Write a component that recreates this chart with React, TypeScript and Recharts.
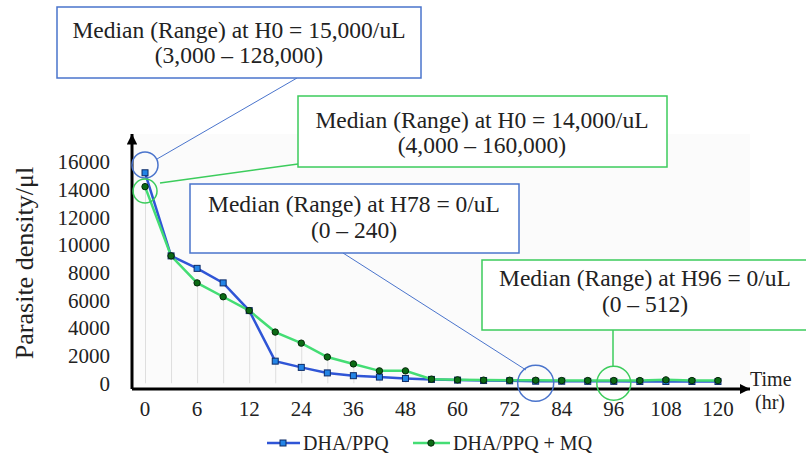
import React from 'react';
import { ComposedChart, Line, Bar, XAxis, YAxis, ReferenceDot, CartesianGrid } from 'recharts';

const hours = [0, 3, 6, 9, 12, 18, 24, 30, 36, 42, 48, 54, 60, 66, 72, 78, 84, 90, 96, 102, 108, 114, 120];
const dhaPpq = [15200, 9200, 8300, 7250, 5250, 1600, 1150, 750, 550, 450, 350, 280, 230, 200, 180, 150, 150, 140, 140, 130, 130, 130, 130];
const dhaPpqMq = [14200, 9200, 7250, 6250, 5250, 3700, 2900, 1900, 1400, 900, 900, 300, 250, 230, 220, 220, 200, 200, 200, 200, 250, 200, 200];
const yTicks = [0, 2000, 4000, 6000, 8000, 10000, 12000, 14000, 16000];

const seriesNames = ['DHA/PPQ', 'DHA/PPQ + MQ'];

const data = hours.map((h, i) => ({ hour: h, ppq: dhaPpq[i], mq: dhaPpqMq[i] }));

const FONT = "'Liberation Serif', 'Times New Roman', serif";
const BLUE_LINE = '#2f55d6';
const GREEN_LINE = '#44dd74';
const BLUE_NOTE = '#4a74cc';
const GREEN_NOTE = '#3ccc5c';

const SquareDot = (props: any) => {
  const { cx, cy } = props;
  if (cx == null || cy == null) return null;
  return <rect x={cx - 3} y={cy - 3} width={6} height={6} fill="#2384e6" stroke="#0d2a66" strokeWidth={1} />;
};

const RoundDot = (props: any) => {
  const { cx, cy } = props;
  if (cx == null || cy == null) return null;
  return <circle cx={cx} cy={cy} r={3.2} fill="#0b6a14" stroke="#06280a" strokeWidth={1} />;
};

const Note = ({ x, y, w, h, color, lines, cx, base }: any) => (
  <g>
    <rect x={x} y={y} width={w} height={h} fill="#fff" stroke={color} strokeWidth={1.5} />
    <text x={cx} y={base[0]} textAnchor="middle" fontSize={23.5} fill="#222" fontFamily={FONT}>{lines[0]}</text>
    <text x={cx} y={base[1]} textAnchor="middle" fontSize={23.5} fill="#222" fontFamily={FONT}>{lines[1]}</text>
  </g>
);

export default function App() {
  return (
    <div style={{ position: 'absolute', left: 0, top: 0, width: 806, height: 461, background: '#fff' }}>
      <ComposedChart width={806} height={461} data={data} margin={{ top: 134, right: 56, left: 0, bottom: 32 }}>
        <CartesianGrid horizontal={false} vertical={false} fill="#fbfbfb" />
        <XAxis
          dataKey="hour"
          type="category"
          interval={1}
          height={40}
          tickLine={false}
          tickSize={0}
          tickMargin={12}
          padding={{ left: 0, right: 19 }}
          tick={{ fontSize: 21, fill: '#222', fontFamily: FONT }}
          axisLine={{ stroke: '#000', strokeWidth: 3, markerEnd: 'url(#arrowHead)' }}
        />
        <YAxis
          type="number"
          domain={[-411, 18000]}
          ticks={yTicks}
          interval={0}
          width={132}
          tickLine={false}
          tickSize={0}
          tickMargin={22}
          tick={{ fontSize: 21, fill: '#222', fontFamily: FONT }}
          axisLine={{ stroke: '#000', strokeWidth: 3, markerStart: 'url(#arrowHead)' }}
        />
        <Bar dataKey="mq" barSize={1} fill="#dedede" isAnimationActive={false} />
        <Line dataKey="ppq" name={seriesNames[0]} stroke={BLUE_LINE} strokeWidth={2.5} dot={<SquareDot />} activeDot={false} isAnimationActive={false} />
        <Line dataKey="mq" name={seriesNames[1]} stroke={GREEN_LINE} strokeWidth={2.5} dot={<RoundDot />} activeDot={false} isAnimationActive={false} />
        <ReferenceDot x={0} y={15760} r={13} fill="none" stroke={BLUE_NOTE} strokeWidth={1.5} ifOverflow="visible" />
        <ReferenceDot x={0} y={13880} r={12} fill="none" stroke={GREEN_NOTE} strokeWidth={1.5} ifOverflow="visible" />
        <ReferenceDot x={78} y={0} r={18} fill="none" stroke={BLUE_NOTE} strokeWidth={1.5} ifOverflow="visible" />
        <ReferenceDot x={96} y={0} r={17} fill="none" stroke={GREEN_NOTE} strokeWidth={1.5} ifOverflow="visible" />
      </ComposedChart>
      <svg width={806} height={461} style={{ position: 'absolute', left: 0, top: 0, pointerEvents: 'none' }}>
        <defs>
          <marker id="arrowHead" viewBox="0 0 10 10" refX="10" refY="5" markerWidth="3.5" markerHeight="3.5" orient="auto-start-reverse" markerUnits="strokeWidth">
            <path d="M0,0 L10,5 L0,10 z" fill="#000" />
          </marker>
        </defs>
        <text transform="translate(33,263) rotate(-90)" textAnchor="middle" fontSize={26} fill="#222" fontFamily={FONT}>Parasite density/μl</text>
        <text x={750} y={386} fontSize={20} fill="#222" fontFamily={FONT}>Time</text>
        <text x={755} y={409} fontSize={20} fill="#222" fontFamily={FONT}>(hr)</text>

        <line x1={297} y1={78} x2={157} y2={159} stroke={BLUE_NOTE} strokeWidth={1} />
        <line x1={298} y1={164} x2={160} y2={183} stroke={GREEN_NOTE} strokeWidth={1.5} />
        <line x1={343} y1={253} x2={526} y2={370} stroke={BLUE_NOTE} strokeWidth={1} />
        <line x1={613} y1={330} x2={613} y2={366} stroke={GREEN_NOTE} strokeWidth={1.5} />

        <Note x={57} y={7} w={364} h={71} color={BLUE_NOTE} cx={239} base={[38, 63]} lines={['Median (Range) at H0 = 15,000/uL', '(3,000 – 128,000)']} />
        <Note x={298} y={96} w={369} h={71} color={GREEN_NOTE} cx={482} base={[128, 153]} lines={['Median (Range) at H0 = 14,000/uL', '(4,000 – 160,000)']} />
        <Note x={190} y={184} w={329} h={69} color={BLUE_NOTE} cx={354} base={[212, 238]} lines={['Median (Range) at H78 = 0/uL', '(0 – 240)']} />
        <Note x={482} y={260} w={330} h={70} color={GREEN_NOTE} cx={645} base={[286, 312]} lines={['Median (Range) at H96 = 0/uL', '(0 – 512)']} />

        <line x1={267} y1={443} x2={300} y2={443} stroke={BLUE_LINE} strokeWidth={2.5} />
        <SquareDot cx={283} cy={443} />
        <text x={303} y={450} fontSize={20} fill="#222" fontFamily={FONT}>{seriesNames[0]}</text>
        <line x1={413} y1={443} x2={450} y2={443} stroke={GREEN_LINE} strokeWidth={2.5} />
        <RoundDot cx={431} cy={443} />
        <text x={453} y={450} fontSize={20} fill="#222" fontFamily={FONT}>{seriesNames[1]}</text>
      </svg>
    </div>
  );
}
